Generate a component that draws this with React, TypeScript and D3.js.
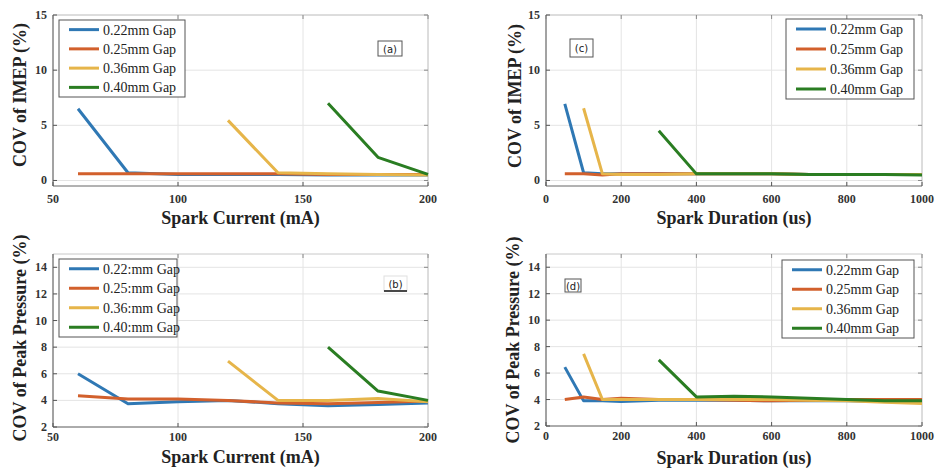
import React from "react";
import * as d3 from "d3";

const seriesNames = ["0.22mm Gap", "0.25mm Gap", "0.36mm Gap", "0.40mm Gap"];
const seriesNamesB = ["0.22:mm Gap", "0.25:mm Gap", "0.36:mm Gap", "0.40:mm Gap"];
const colors = ["#2f78b4", "#d2602c", "#e6b54a", "#2a7d22"];

const currentTicks = [50, 100, 150, 200];
const durationTicks = [0, 200, 400, 600, 800, 1000];
const imepTicks = [0, 5, 10, 15];
const peakTicks = [2, 4, 6, 8, 10, 12, 14];

// Panel (a): COV of IMEP vs spark current
const aX022 = [60, 80, 100, 120, 140, 160, 180, 200];
const aY022 = [6.5, 0.7, 0.55, 0.55, 0.55, 0.5, 0.5, 0.5];
const aX025 = [60, 80, 100, 120, 140, 160, 180, 200];
const aY025 = [0.6, 0.6, 0.6, 0.6, 0.6, 0.55, 0.55, 0.55];
const aX036 = [120, 140, 160, 180, 200];
const aY036 = [5.45, 0.7, 0.6, 0.55, 0.5];
const aX040 = [160, 180, 200];
const aY040 = [7.0, 2.1, 0.55];

// Panel (c): COV of IMEP vs spark duration
const cX022 = [50, 100, 150, 200, 300, 400, 500, 600, 700, 800, 900, 1000];
const cY022 = [6.95, 0.7, 0.6, 0.6, 0.6, 0.6, 0.6, 0.6, 0.55, 0.55, 0.55, 0.55];
const cX025 = [50, 100, 150, 200, 300, 400, 500, 600, 700, 800, 900, 1000];
const cY025 = [0.6, 0.6, 0.5, 0.6, 0.6, 0.6, 0.6, 0.6, 0.55, 0.55, 0.55, 0.55];
const cX036 = [100, 150, 200, 300, 400, 500, 600, 700, 800, 900, 1000];
const cY036 = [6.55, 0.6, 0.55, 0.55, 0.6, 0.6, 0.6, 0.55, 0.55, 0.55, 0.55];
const cX040 = [300, 400, 500, 600, 700, 800, 900, 1000];
const cY040 = [4.5, 0.6, 0.6, 0.6, 0.55, 0.55, 0.55, 0.5];

// Panel (b): COV of peak pressure vs spark current
const bX022 = [60, 80, 100, 120, 140, 160, 180, 200];
const bY022 = [6.0, 3.75, 3.9, 4.0, 3.75, 3.6, 3.7, 3.8];
const bX025 = [60, 80, 100, 120, 140, 160, 180, 200];
const bY025 = [4.35, 4.1, 4.1, 4.0, 3.8, 3.75, 3.85, 3.95];
const bX036 = [120, 140, 160, 180, 200];
const bY036 = [6.95, 4.0, 4.0, 4.15, 3.9];
const bX040 = [160, 180, 200];
const bY040 = [8.0, 4.7, 4.0];

// Panel (d): COV of peak pressure vs spark duration
const dX022 = [50, 100, 150, 200, 300, 400, 500, 600, 700, 800, 900, 1000];
const dY022 = [6.45, 3.9, 3.9, 3.85, 3.95, 3.95, 3.95, 3.9, 3.9, 3.9, 3.85, 3.85];
const dX025 = [50, 100, 150, 200, 300, 400, 500, 600, 700, 800, 900, 1000];
const dY025 = [4.0, 4.2, 4.0, 4.1, 4.0, 4.0, 3.95, 3.9, 3.95, 4.0, 4.0, 4.0];
const dX036 = [100, 150, 200, 300, 400, 500, 600, 700, 800, 900, 1000];
const dY036 = [7.45, 4.0, 4.0, 4.0, 4.0, 4.0, 4.0, 3.95, 3.9, 3.8, 3.7];
const dX040 = [300, 400, 500, 600, 700, 800, 900, 1000];
const dY040 = [7.0, 4.2, 4.25, 4.2, 4.1, 4.0, 3.9, 3.9];

const zip = (xs: number[], ys: number[]) => xs.map((x, i) => [x, ys[i]] as [number, number]);

type PanelCfg = {
  left: number; right: number; top: number; bottom: number;
  xDomain: [number, number]; yDomain: [number, number];
  xTicks: number[]; yTicks: number[];
  series: [number, number][][];
  xLabel: string; yLabel: string;
  yLabelX: number; yLabelCY: number; xLabelY: number; xTickDy: number;
  legend: { x: number; y: number; w: number; h: number; names: string[] };
  tag: { x: number; y: number; w: number; h: number; text: string; underline?: boolean };
};

const SERIF = "'Liberation Serif', 'Times New Roman', serif";

function Panel({ cfg }: { cfg: PanelCfg }) {
  const x = d3.scaleLinear().domain(cfg.xDomain).range([cfg.left, cfg.right]);
  const y = d3.scaleLinear().domain(cfg.yDomain).range([cfg.bottom, cfg.top]);
  const line = d3.line<[number, number]>().x((d) => x(d[0])).y((d) => y(d[1]));
  const { legend, tag } = cfg;
  const rowH = legend.h / 4;
  return (
    <g>
      <rect x={cfg.left} y={cfg.top} width={cfg.right - cfg.left} height={cfg.bottom - cfg.top} fill="#fff" />
      {cfg.xTicks.map((t) => (
        <line key={"gx" + t} x1={x(t)} x2={x(t)} y1={cfg.top} y2={cfg.bottom} stroke="#e4e4e4" strokeWidth={1} />
      ))}
      {cfg.yTicks.map((t) => (
        <line key={"gy" + t} x1={cfg.left} x2={cfg.right} y1={y(t)} y2={y(t)} stroke="#e4e4e4" strokeWidth={1} />
      ))}
      {/* frame */}
      <line x1={cfg.left} x2={cfg.right} y1={cfg.top} y2={cfg.top} stroke="#c8c8c8" />
      <line x1={cfg.right} x2={cfg.right} y1={cfg.top} y2={cfg.bottom} stroke="#c8c8c8" />
      <line x1={cfg.left} x2={cfg.right} y1={cfg.bottom} y2={cfg.bottom} stroke="#666" />
      <line x1={cfg.left} x2={cfg.left} y1={cfg.top} y2={cfg.bottom} stroke="#555" />
      {cfg.xTicks.map((t) => (
        <g key={"tx" + t}>
          <line x1={x(t)} x2={x(t)} y1={cfg.bottom} y2={cfg.bottom - 4} stroke="#555" />
          <line x1={x(t)} x2={x(t)} y1={cfg.top} y2={cfg.top + 4} stroke="#888" />
          <text x={x(t)} y={cfg.bottom + cfg.xTickDy} textAnchor="middle" fontFamily={SERIF} fontWeight="bold" fontSize={12} fill="#333">{t}</text>
        </g>
      ))}
      {cfg.yTicks.map((t) => (
        <g key={"ty" + t}>
          <line x1={cfg.left} x2={cfg.left + 4} y1={y(t)} y2={y(t)} stroke="#555" />
          <line x1={cfg.right} x2={cfg.right - 4} y1={y(t)} y2={y(t)} stroke="#888" />
          <text x={cfg.left - 6} y={y(t) + 4} textAnchor="end" fontFamily={SERIF} fontWeight="bold" fontSize={12} fill="#333">{t}</text>
        </g>
      ))}
      {cfg.series.map((s, i) => (
        <path key={"s" + i} d={line(s) || ""} fill="none" stroke={colors[i]} strokeWidth={3} strokeLinejoin="round" />
      ))}
      {/* legend */}
      <rect x={legend.x} y={legend.y} width={legend.w} height={legend.h} fill="#fff" stroke="#555" strokeWidth={1} />
      {legend.names.map((n, i) => {
        const cy = legend.y + rowH * (i + 0.5);
        return (
          <g key={"l" + i}>
            <line x1={legend.x + 10} x2={legend.x + 40} y1={cy} y2={cy} stroke={colors[i]} strokeWidth={3} />
            <text x={legend.x + 44} y={cy + 5} fontFamily={SERIF} fontSize={14} fill="#222">{n}</text>
          </g>
        );
      })}
      {/* tag */}
      <rect x={tag.x} y={tag.y} width={tag.w} height={tag.h} fill="#fff" stroke={tag.underline ? "#e0e0e0" : "#555"} strokeWidth={1} />
      {tag.underline && <line x1={tag.x} x2={tag.x + tag.w} y1={tag.y + tag.h} y2={tag.y + tag.h} stroke="#111" strokeWidth={1.5} />}
      <text x={tag.x + tag.w / 2} y={tag.y + tag.h / 2 + 4} textAnchor="middle" fontFamily="'DejaVu Sans', sans-serif" fontSize={10} fill="#222">{tag.text}</text>
      {/* axis labels */}
      <text x={(cfg.left + cfg.right) / 2} y={cfg.xLabelY} textAnchor="middle" fontFamily={SERIF} fontWeight="bold" fontSize={18} fill="#222">{cfg.xLabel}</text>
      <text transform={`translate(${cfg.yLabelX},${cfg.yLabelCY}) rotate(-90)`} textAnchor="middle" fontFamily={SERIF} fontWeight="bold" fontSize={18} fill="#222">{cfg.yLabel}</text>
    </g>
  );
}

export default function App() {
  const panels: PanelCfg[] = [
    {
      left: 53, right: 428, top: 15, bottom: 186, xDomain: [50, 200], yDomain: [-0.5, 15],
      xTicks: currentTicks, yTicks: imepTicks,
      series: [zip(aX022, aY022), zip(aX025, aY025), zip(aX036, aY036), zip(aX040, aY040)],
      xLabel: "Spark Current (mA)", yLabel: "COV of IMEP (%)", yLabelX: 26, yLabelCY: 95, xLabelY: 224, xTickDy: 17,
      legend: { x: 59, y: 20, w: 126, h: 77, names: seriesNames },
      tag: { x: 378, y: 41, w: 24, h: 15, text: "(a)" },
    },
    {
      left: 546, right: 922, top: 15, bottom: 186, xDomain: [0, 1000], yDomain: [-0.5, 15],
      xTicks: durationTicks, yTicks: imepTicks,
      series: [zip(cX022, cY022), zip(cX025, cY025), zip(cX036, cY036), zip(cX040, cY040)],
      xLabel: "Spark Duration (us)", yLabel: "COV of IMEP (%)", yLabelX: 521, yLabelCY: 96, xLabelY: 224, xTickDy: 17,
      legend: { x: 786, y: 19, w: 128, h: 80, names: seriesNames },
      tag: { x: 570, y: 39, w: 23, h: 18, text: "(c)" },
    },
    {
      left: 53, right: 428, top: 254, bottom: 427, xDomain: [50, 200], yDomain: [2, 15],
      xTicks: currentTicks, yTicks: peakTicks,
      series: [zip(bX022, bY022), zip(bX025, bY025), zip(bX036, bY036), zip(bX040, bY040)],
      xLabel: "Spark Current (mA)", yLabel: "COV of Peak Pressure (%)", yLabelX: 26, yLabelCY: 338, xLabelY: 463, xTickDy: 14,
      legend: { x: 59, y: 259, w: 118, h: 78, names: seriesNamesB },
      tag: { x: 384, y: 276, w: 23, h: 15, text: "(b)", underline: true },
    },
    {
      left: 546, right: 922, top: 254, bottom: 426, xDomain: [0, 1000], yDomain: [2, 15],
      xTicks: durationTicks, yTicks: peakTicks,
      series: [zip(dX022, dY022), zip(dX025, dY025), zip(dX036, dY036), zip(dX040, dY040)],
      xLabel: "Spark Duration (us)", yLabel: "COV of Peak Pressure (%)", yLabelX: 519, yLabelCY: 340, xLabelY: 464, xTickDy: 14,
      legend: { x: 782, y: 260, w: 132, h: 78, names: seriesNames },
      tag: { x: 565, y: 279, w: 16, h: 13, text: "(d)" },
    },
  ];
  return (
    <svg width={935} height={468} style={{ position: "absolute", left: 0, top: 0, background: "#fff" }}>
      <rect width={935} height={468} fill="#fff" />
      {panels.map((p, i) => (
        <Panel key={i} cfg={p} />
      ))}
    </svg>
  );
}
